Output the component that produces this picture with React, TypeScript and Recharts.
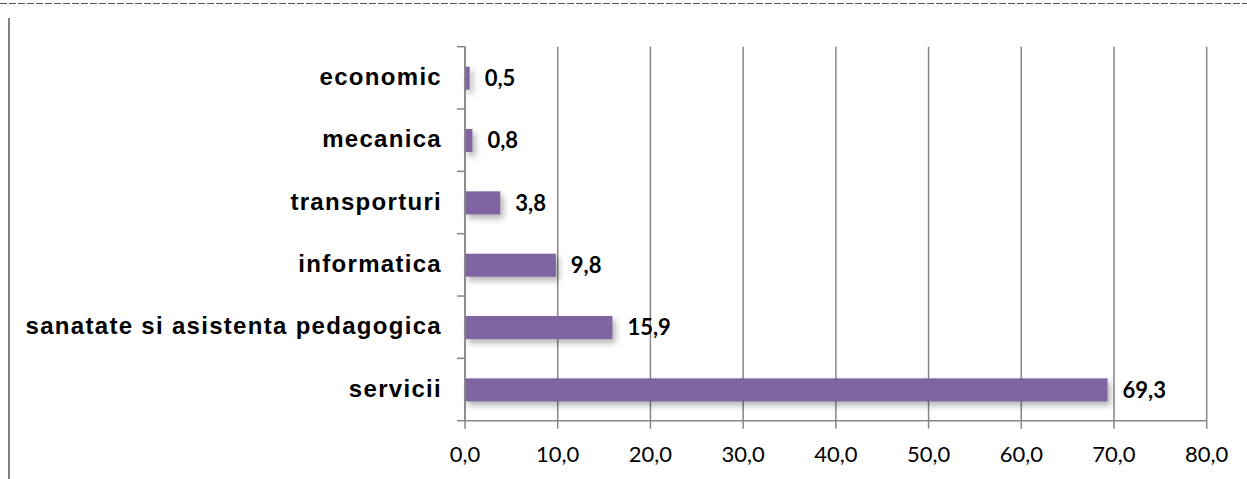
import React from 'react';
import { BarChart, Bar, XAxis, YAxis, CartesianGrid, LabelList } from 'recharts';

const categories = [
  'economic',
  'mecanica',
  'transporturi',
  'informatica',
  'sanatate si asistenta pedagogica',
  'servicii',
];
const values = [0.5, 0.8, 3.8, 9.8, 15.9, 69.3];
const xTicks = [0, 10, 20, 30, 40, 50, 60, 70, 80];

const data = categories.map((name, i) => ({ name, value: values[i] }));

const GRAY = '#868686';
const PURPLE = '#8064A2';

const fmt = (v: number) => v.toFixed(1).replace('.', ',');

function CategoryTick(props: any) {
  const { x, y, payload, index } = props;
  const half = payload?.offset || 31.15;
  const lx1 = x + 15;
  const lx2 = x + 23;
  return (
    <g>
      <line x1={lx1} x2={lx2} y1={y - half} y2={y - half} stroke={GRAY} strokeWidth={1.5} />
      {index === categories.length - 1 && (
        <line x1={lx1} x2={lx2} y1={y + half} y2={y + half} stroke={GRAY} strokeWidth={1.5} />
      )}
      <text
        x={x}
        y={y}
        dy="0.3em"
        textAnchor="end"
        fill="#000"
        fontFamily="'Liberation Sans', Arial, sans-serif"
        fontWeight="bold"
        fontSize={24}
        letterSpacing={1.3}
      >
        {payload.value}
      </text>
    </g>
  );
}

function ShadowBar(props: any) {
  const { x, y, width, height } = props;
  if (!width || width <= 0) return null;
  return (
    <rect
      x={x}
      y={y}
      width={width}
      height={height}
      fill={PURPLE}
      style={{ filter: 'drop-shadow(3px 4px 3px rgba(0,0,0,0.3))' }}
    />
  );
}

export default function App() {
  return (
    <div style={{ position: 'absolute', left: 0, top: 0, width: 1247, height: 479, background: '#fff' }}>
      <svg width={1247} height={479} style={{ position: 'absolute', left: 0, top: 0 }}>
        <line x1={0} x2={1247} y1={3.5} y2={3.5} stroke="#555" strokeWidth={1} strokeDasharray="7 2" />
        <line x1={9} x2={9} y1={18} y2={479} stroke="#808080" strokeWidth={2} />
      </svg>
      <BarChart
        width={1247}
        height={479}
        data={data}
        layout="vertical"
        margin={{ top: 46.7, right: 40.3, bottom: 0, left: 0 }}
        barSize={23}
        style={{ position: 'absolute', left: 0, top: 0 }}
      >
        <CartesianGrid horizontal={false} vertical stroke={GRAY} strokeWidth={1.5} />
        <XAxis
          type="number"
          domain={[0, 80]}
          ticks={xTicks}
          tickFormatter={fmt}
          height={58.3}
          tickSize={8}
          tickMargin={18}
          stroke={GRAY}
          strokeWidth={1.5}
          interval={0}
          tick={{ fill: '#000', fontFamily: 'Lato, sans-serif', fontSize: 22 }}
        />
        <YAxis
          type="category"
          dataKey="name"
          width={465}
          tickSize={8}
          tickMargin={15}
          tickLine={false}
          stroke={GRAY}
          strokeWidth={1.5}
          interval={0}
          tick={<CategoryTick />}
        />
        <Bar dataKey="value" fill={PURPLE} shape={<ShadowBar />} isAnimationActive={false}>
          <LabelList
            dataKey="value"
            position="right"
            offset={15}
            formatter={(v: any) => fmt(Number(v))}
            fill="#000"
            fontFamily="Lato, sans-serif"
            fontWeight="bold"
            fontSize={22}
          />
        </Bar>
      </BarChart>
    </div>
  );
}
